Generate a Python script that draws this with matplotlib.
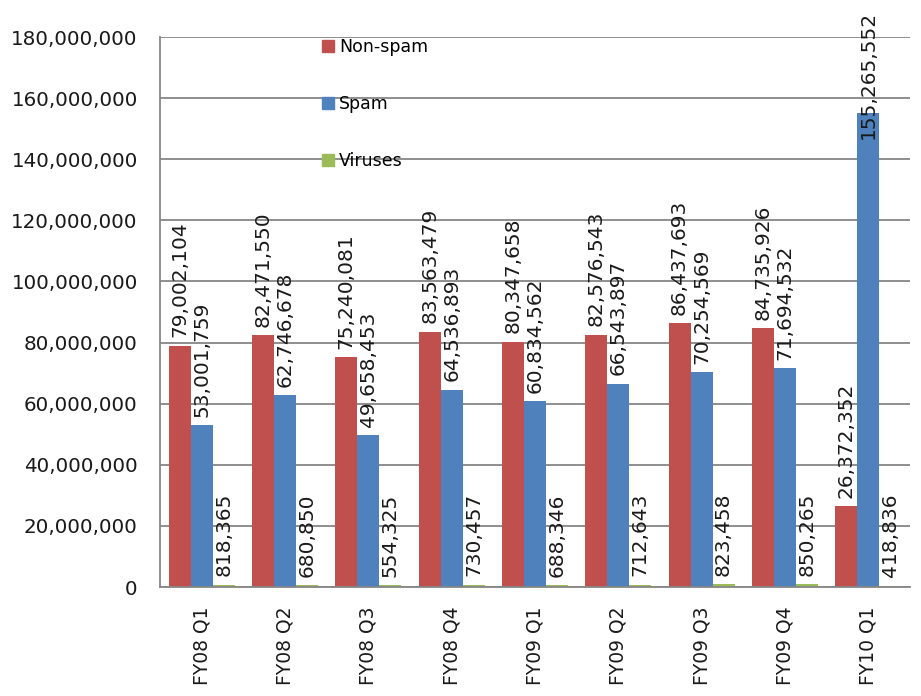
import matplotlib
matplotlib.use("Agg")
import matplotlib.pyplot as plt
import numpy as np
from matplotlib.patches import Patch
from matplotlib.ticker import FuncFormatter

categories = ["FY08 Q1", "FY08 Q2", "FY08 Q3", "FY08 Q4", "FY09 Q1",
              "FY09 Q2", "FY09 Q3", "FY09 Q4", "FY10 Q1"]
non_spam = [79002104, 82471550, 75240081, 83563479, 80347658,
            82576543, 86437693, 84735926, 26372352]
spam = [53001759, 62746678, 49658453, 64536893, 60834562,
        66543897, 70254569, 71694532, 155265552]
viruses = [818365, 680850, 554325, 730457, 688346,
           712643, 823458, 850265, 418836]
series_names = ["Non-spam", "Spam", "Viruses"]
colors = ["#C0504D", "#4F81BD", "#9BBB59"]

plt.rcParams['font.family'] = ['DejaVu Sans']
fig = plt.figure(figsize=(9.21, 6.96), dpi=100)
ax = fig.add_axes([0.1737, 0.1566, 0.8143, 0.7902])

x = np.arange(len(categories))
w = 0.264
grid_c = "#868686"
fs = 12.5
lfs = 14.5
series = [non_spam, spam, viruses]
for k, (vals, c) in enumerate(zip(series, colors)):
    pos = x + (k - 1) * w
    ax.bar(pos, vals, width=w, color=c, zorder=3, label=series_names[k])
    for p, v in zip(pos, vals):
        off = 6
        if v > 150_000_000:
            off = -19
        ax.annotate(f"{v:,}", xy=(p, v), xytext=(0, off), textcoords="offset points",
                    rotation=90, ha="center", va="bottom", fontsize=lfs,
                    color="#1a1a1a", zorder=5, annotation_clip=False)

ax.set_xlim(-0.5, len(categories) - 0.5)
ax.set_ylim(0, 180_000_000)
ax.set_yticks(np.arange(0, 180_000_001, 20_000_000))
ax.yaxis.set_major_formatter(FuncFormatter(lambda v, p: f"{int(v):,}"))
ax.set_xticks(x)
ax.set_xticklabels(categories, rotation=90, fontsize=13.5, color="#1a1a1a")
ax.tick_params(axis="y", labelsize=14.3, colors="#1a1a1a", length=0, pad=16)
ax.tick_params(axis="x", length=0, pad=14)
ax.grid(axis="y", color=grid_c, linewidth=1.3, zorder=0)
for s in ["top", "right"]:
    ax.spines[s].set_visible(False)
for s in ["left", "bottom"]:
    ax.spines[s].set_color(grid_c)
    ax.spines[s].set_linewidth(1.3)
    ax.spines[s].set_zorder(4)

handles = [Patch(color=c) for c in colors]
leg = ax.legend(handles, series_names, loc="upper left", bbox_to_anchor=(0.195, 1.026),
                frameon=False, fontsize=fs, handlelength=0.7, handleheight=0.7,
                handletextpad=0.3, labelspacing=2.23)

fig.savefig("out.png", dpi=100, facecolor="white")
